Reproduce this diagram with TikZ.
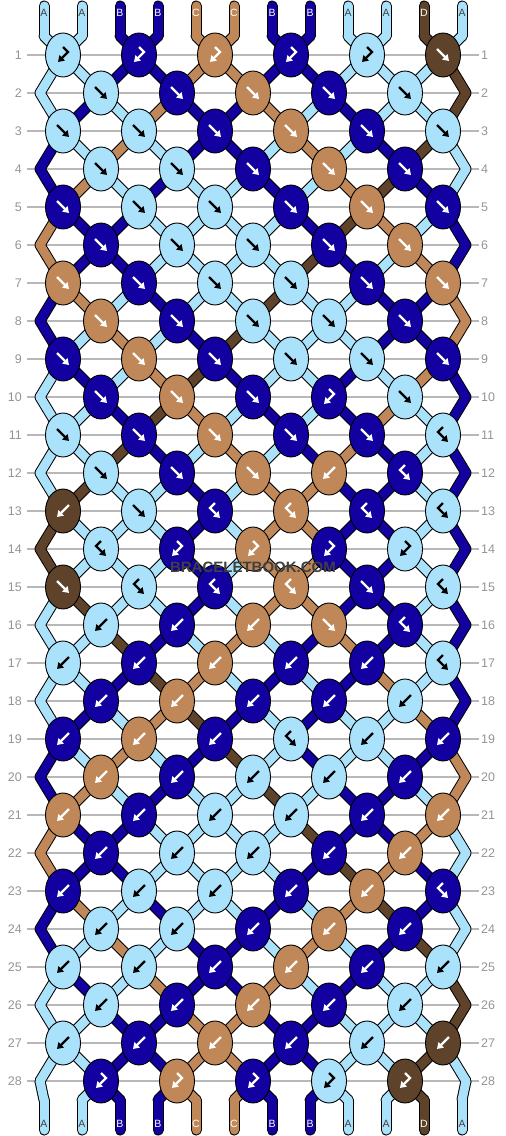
\documentclass[tikz,border=0pt]{standalone}
\usepackage{fontspec}
\setmainfont{Liberation Sans}
\usetikzlibrary{arrows.meta, shapes.geometric}

\definecolor{thrA}{RGB}{170,226,252}
\definecolor{thrB}{RGB}{18,0,160}
\definecolor{thrC}{RGB}{192,136,88}
\definecolor{thrD}{RGB}{94,66,42}
\colorlet{txtA}{black!75}
\colorlet{txtB}{white}
\colorlet{txtC}{white}
\colorlet{txtD}{white}
\colorlet{arrA}{black}
\colorlet{arrB}{white}
\colorlet{arrC}{white}
\colorlet{arrD}{white}

\newcommand\arrf[2]{\draw[glyph, #2, shift={(#1.center)}] (-6,-6) -- (6,6);}
\newcommand\arrb[2]{\draw[glyph, #2, shift={(#1.center)}] (6,-6) -- (-6,6);}
\newcommand\arrfb[2]{\draw[glyph, #2, shift={(#1.center)}] (0,-8) -- (-5,-3) -- (5,7);}
\newcommand\arrbf[2]{\draw[glyph, #2, shift={(#1.center)}] (0,-8) -- (5,-3) -- (-5,7);}

\begin{document}
\begin{tikzpicture}[x=1pt, y=-1pt,
    knot/.style={ellipse, draw=black, line width=0.9pt, minimum width=35pt, minimum height=44pt, inner sep=0pt},
    rowline/.style={draw=black!28, line width=1.1pt},
    rownum/.style={text=black!42, inner sep=0pt, font=\fontsize{12.5}{12.5}\selectfont},
    strlabel/.style={inner sep=0pt, font=\fontsize{10.5}{10.5}\selectfont},
    glyph/.style={line width=2.3pt, line join=miter, -{Triangle[length=6pt, width=7.5pt]}}]
\useasboundingbox (0,0) rectangle (506,1136);

% Rows
\foreach \r in {1,...,28} {
  \pgfmathsetmacro\yy{55+38*(\r-1)}
  \draw[rowline] (27,\yy) -- (479,\yy);
  \node[rownum, anchor=east] (rl-\r) at (22,\yy) {\r};
  \node[rownum, anchor=west] (rr-\r) at (481,\yy) {\r};
}

% Thread points
\foreach \p in {1,...,12} {
  \pgfmathsetmacro\xx{44+38*(\p-1)}
  \coordinate (e-top-\p) at (\xx,6);
  \coordinate (t-0-\p) at (\xx,36);
  \coordinate (t-29-\p) at (\xx,1100);
  \coordinate (e-bot-\p) at (\xx,1130);
}
\foreach \r in {1,...,28} {
  \foreach \p in {1,...,12} {
    \pgfmathsetmacro\yy{55+38*(\r-1)}
    \ifodd\r\relax
      \pgfmathsetmacro\xx{63+76*int((\p-1)/2)}
    \else
      \pgfmathsetmacro\xx{\p==1 ? 40 : (\p==12 ? 466 : 101+76*(int(\p/2)-1))}
    \fi
    \coordinate (t-\r-\p) at (\xx,\yy);
  }
}

% Threads
\foreach \lw/\fillpass in {11/0,9/1} {
  \foreach \col [count=\p] in {A,A,B,B,C,C,B,B,A,A,D,A} {
    \ifnum\fillpass=0 \colorlet{segcol}{black}\else\colorlet{segcol}{thr\col}\fi
    \draw[segcol, line width=\lw pt, line cap=round, line join=round] (e-top-\p) -- (t-0-\p);
    \draw[segcol, line width=\lw pt, line cap=round, line join=round] (t-29-\p) -- (e-bot-\p);
  }
  \foreach \r/\st in {
      0/{A,A,B,B,C,C,B,B,A,A,D,A},
      1/{A,A,B,B,C,C,B,B,A,A,A,D},
      2/{A,B,A,C,B,B,C,A,B,A,A,D},
      3/{B,A,C,A,B,B,A,C,A,B,D,A},
      4/{B,C,A,B,A,A,B,A,C,D,B,A},
      5/{C,B,B,A,A,A,A,B,D,C,A,B},
      6/{C,B,B,A,A,A,A,D,B,A,C,B},
      7/{B,C,A,B,A,A,D,A,A,B,B,C},
      8/{B,A,C,A,B,D,A,A,A,B,B,C},
      9/{A,B,A,C,D,B,A,A,B,A,C,B},
      10/{A,A,B,D,C,A,B,A,B,C,A,B},
      11/{A,A,D,B,A,C,A,B,C,B,A,B},
      12/{A,D,A,A,B,A,C,C,B,B,A,B},
      13/{D,A,A,A,B,A,C,C,B,B,A,B},
      14/{D,A,A,A,B,A,C,C,B,B,A,B},
      15/{A,D,A,A,B,A,C,C,B,B,A,B},
      16/{A,A,D,B,A,C,A,B,C,B,A,B},
      17/{A,A,B,D,C,A,B,A,B,C,A,B},
      18/{A,B,A,C,D,B,A,B,A,A,C,B},
      19/{B,A,C,A,B,D,A,B,A,A,B,C},
      20/{B,C,A,B,A,A,D,A,B,B,A,C},
      21/{C,B,B,A,A,A,A,D,B,B,C,A},
      22/{C,B,B,A,A,A,A,B,D,C,B,A},
      23/{B,C,A,B,A,A,B,A,C,D,B,A},
      24/{B,A,C,A,B,B,A,C,A,B,D,A},
      25/{A,B,A,C,B,B,C,A,B,A,A,D},
      26/{A,A,B,B,C,C,B,B,A,A,A,D},
      27/{A,A,B,B,C,C,B,B,A,A,D,A},
      28/{A,A,B,B,C,C,B,B,A,A,D,A}} {
    \pgfmathtruncatemacro\rn{\r+1}
    \foreach \col [count=\p] in \st {
      \ifnum\fillpass=0 \colorlet{segcol}{black}\else\colorlet{segcol}{thr\col}\fi
      \draw[segcol, line width=\lw pt, line cap=round, line join=round] (t-\r-\p) -- (t-\rn-\p);
    }
  }
}

% Knots
\foreach \r/\kl in {
    1/{A/bf,B/bf,C/bf,B/bf,A/bf,D/f},
    2/{A/f,B/f,C/f,B/f,A/f},
    3/{A/f,A/f,B/f,C/f,B/f,A/f},
    4/{A/f,A/f,B/f,C/f,B/f},
    5/{B/f,A/f,A/f,B/f,C/f,B/f},
    6/{B/f,A/f,A/f,B/f,C/f},
    7/{C/f,B/f,A/f,A/f,B/f,C/f},
    8/{C/f,B/f,A/f,A/f,B/f},
    9/{B/f,C/f,B/f,A/f,A/f,B/f},
    10/{B/f,C/f,B/f,B/bf,A/f},
    11/{A/f,B/f,C/f,B/f,B/f,A/fb},
    12/{A/f,B/f,C/f,C/b,B/fb},
    13/{D/b,A/f,B/fb,C/fb,B/fb,A/fb},
    14/{A/fb,B/bf,C/bf,B/bf,A/bf},
    15/{D/f,A/fb,B/fb,C/fb,B/f,A/fb},
    16/{A/b,B/b,C/b,C/f,B/fb},
    17/{A/b,B/b,C/b,B/b,B/b,A/fb},
    18/{B/b,C/b,B/b,B/b,A/b},
    19/{B/b,C/b,B/b,A/fb,A/b,B/b},
    20/{C/b,B/b,A/b,A/b,B/b},
    21/{C/b,B/b,A/b,A/b,B/b,C/b},
    22/{B/b,A/b,A/b,B/b,C/b},
    23/{B/b,A/b,A/b,B/b,C/b,B/fb},
    24/{A/b,A/b,B/b,C/b,B/b},
    25/{A/b,A/b,B/b,C/b,B/b,A/b},
    26/{A/b,B/b,C/b,B/b,A/b},
    27/{A/b,B/b,C/b,B/b,A/b,D/b},
    28/{B/bf,C/bf,B/bf,A/bf,D/bf}} {
  \pgfmathsetmacro\yy{55+38*(\r-1)}
  \foreach \col/\kt [count=\kn] in \kl {
    \ifodd\r\relax
      \pgfmathsetmacro\xx{63+76*(\kn-1)}
    \else
      \pgfmathsetmacro\xx{101+76*(\kn-1)}
    \fi
    \node[knot, fill=thr\col] (k-\r-\kn) at (\xx,\yy) {};
    \csname arr\kt\endcsname{k-\r-\kn}{arr\col}
  }
}

% Labels
\foreach \col [count=\p] in {A,A,B,B,C,C,B,B,A,A,D,A} {
  \pgfmathsetmacro\xx{44+38*(\p-1)}
  \node[strlabel, text=txt\col] (lt-\p) at (\xx,13) {\col};
  \node[strlabel, text=txt\col] (lb-\p) at (\xx,1124) {\col};
}

\node[text=black!75, inner sep=0pt, font=\bfseries\fontsize{15}{15}\selectfont] (mark) at (253,567) {BRACELETBOOK.COM};

\end{tikzpicture}
\end{document}
